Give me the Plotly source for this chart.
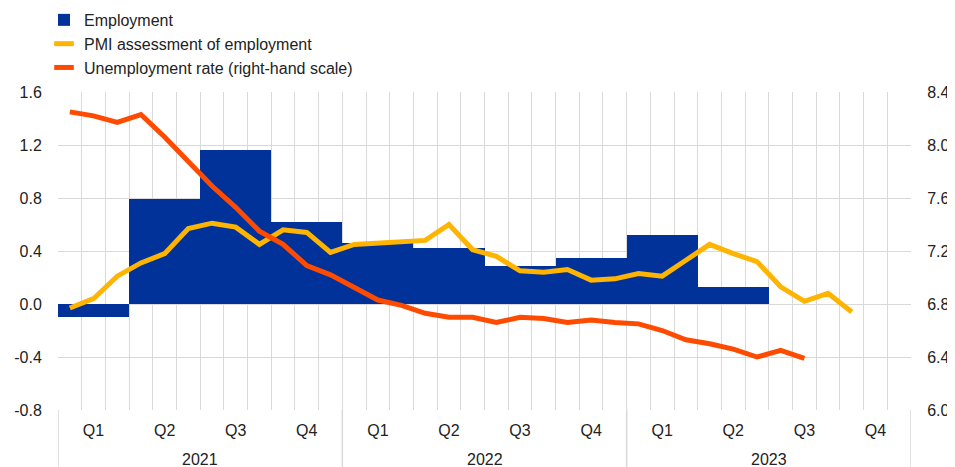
import plotly.graph_objects as go

# monthly positions Jan 2021 .. Dec 2023 (month index, centre of month)
quarter_labels = ["Q1", "Q2", "Q3", "Q4"] * 3
years = ["2021", "2022", "2023"]
left_ticks = [-0.8, -0.4, 0.0, 0.4, 0.8, 1.2, 1.6]
right_ticks = [6.0, 6.4, 6.8, 7.2, 7.6, 8.0, 8.4]

# employment, quarter-on-quarter % (left-hand scale), Q1 2021 .. Q2 2023
employment = [-0.10, 0.79, 1.16, 0.62, 0.46, 0.42, 0.29, 0.35, 0.52, 0.13]

# PMI assessment of employment (left-hand scale), Jan 2021 .. Oct 2023
pmi = [-0.03, 0.04, 0.21, 0.31, 0.38, 0.57, 0.61, 0.58, 0.45, 0.56, 0.54, 0.39,
       0.45, 0.46, 0.47, 0.48, 0.60, 0.41, 0.36, 0.25, 0.24, 0.26, 0.18, 0.19,
       0.23, 0.21, 0.33, 0.45, 0.38, 0.32, 0.13, 0.02, 0.08, -0.06]

# unemployment rate (right-hand scale), Jan 2021 .. Aug 2023
unemployment = [8.25, 8.22, 8.17, 8.23, 8.06, 7.87, 7.69, 7.53, 7.35, 7.25, 7.09, 7.02,
                6.93, 6.83, 6.79, 6.73, 6.70, 6.70, 6.66, 6.70, 6.69, 6.66, 6.68, 6.66,
                6.65, 6.60, 6.53, 6.50, 6.46, 6.40, 6.45, 6.39]

BLUE = "#003299"
YELLOW = "#FFB400"
ORANGE = "#FF4B00"
GRID = "#d9d9d9"
FONT = "Arial, Liberation Sans, sans-serif"

q_x = [3 * i + 1.5 for i in range(len(employment))]
pmi_x = [i + 0.5 for i in range(len(pmi))]
un_x = [i + 0.5 for i in range(len(unemployment))]

fig = go.Figure()

fig.add_trace(go.Bar(
    x=q_x, y=employment, width=3, name="Employment",
    marker=dict(color=BLUE, line_width=0),
))
# legend-only entries so the symbols are short flat strokes
fig.add_trace(go.Scatter(
    x=[None], y=[None], mode="markers", name="PMI assessment of employment",
    marker=dict(symbol="line-ew", size=14, line=dict(color=YELLOW, width=5)),
))
fig.add_trace(go.Scatter(
    x=[None], y=[None], mode="markers", name="Unemployment rate (right-hand scale)",
    marker=dict(symbol="line-ew", size=14, line=dict(color=ORANGE, width=5)),
))
fig.add_trace(go.Scatter(
    x=pmi_x, y=pmi, mode="lines", showlegend=False,
    line=dict(color=YELLOW, width=5),
))
fig.add_trace(go.Scatter(
    x=un_x, y=unemployment, mode="lines", showlegend=False, yaxis="y2",
    line=dict(color=ORANGE, width=5),
))

# year separators running down through the label area
for xv in [0, 12, 24, 36]:
    fig.add_shape(type="line", xref="x", yref="paper", x0=xv, x1=xv, y0=-0.18, y1=0,
                  line=dict(color=GRID, width=1.5), layer="below")

for i, yr in enumerate(years):
    fig.add_annotation(x=12 * i + 6, xref="x", y=-0.157, yref="paper", text=yr,
                       showarrow=False, yanchor="middle", font=dict(size=16, color="#222"))

# page body adds an 8px margin, so the figure is 8px smaller on each axis
fig.update_layout(
    width=947, height=459,
    margin=dict(l=50, r=44, t=84, b=57, autoexpand=False),
    plot_bgcolor="white", paper_bgcolor="white",
    font=dict(family=FONT, size=16, color="#222"),
    bargap=0,
    showlegend=True,
    legend=dict(x=-0.0164, y=1.28, xanchor="left", yanchor="top", tracegroupgap=0,
                font=dict(size=16), bgcolor="rgba(0,0,0,0)"),
    xaxis=dict(
        range=[0, 36], automargin=False,
        tickmode="array", tickvals=[3 * i + 1.5 for i in range(12)], ticktext=quarter_labels,
        showgrid=False, zeroline=False, showline=False,
        ticks="outside", ticklen=6, tickcolor="rgba(0,0,0,0)",
        minor=dict(tick0=0, dtick=1, showgrid=True, gridcolor=GRID, gridwidth=1),
    ),
    yaxis=dict(
        range=[-0.8, 1.6], automargin=False,
        tickmode="array", tickvals=left_ticks, ticktext=[f"{v:.1f}" for v in left_ticks],
        showgrid=True, gridcolor=GRID, zeroline=False, showline=False,
        ticks="outside", ticklen=12, tickcolor="rgba(0,0,0,0)",
    ),
    yaxis2=dict(
        range=[6.0, 8.4], overlaying="y", side="right", automargin=False,
        tickmode="array", tickvals=right_ticks, ticktext=[f"{v:.1f}" for v in right_ticks],
        showgrid=False, zeroline=False, showline=False,
        ticks="outside", ticklen=12, tickcolor="rgba(0,0,0,0)",
    ),
)

fig.write_html("out.html")
